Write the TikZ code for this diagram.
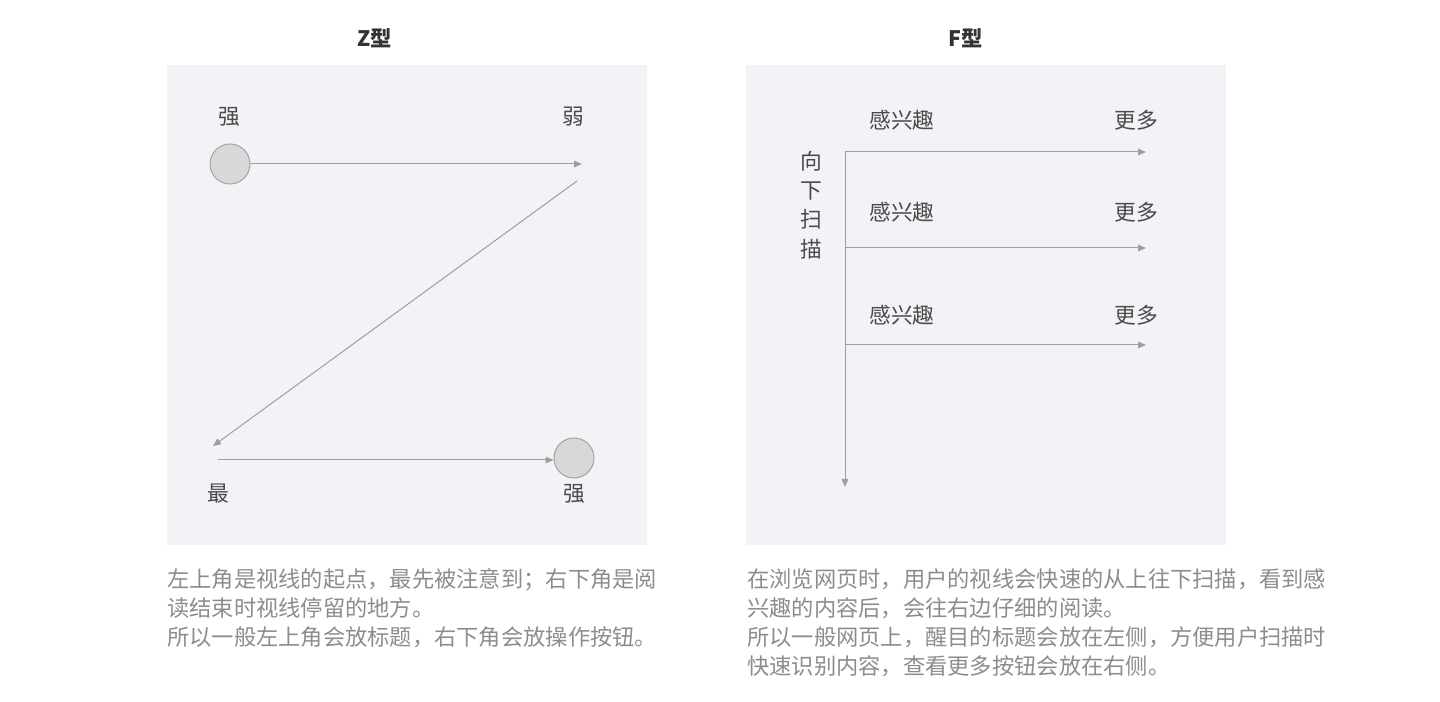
\documentclass[tikz,border=0pt]{standalone}
\usepackage{fontspec}
\setmainfont{Noto Sans CJK SC}
\usepackage{xcolor}
\usetikzlibrary{arrows.meta, positioning}
\definecolor{panelbg}{HTML}{F2F3F7}
\definecolor{linegray}{HTML}{9E9E9E}
\definecolor{dotfill}{HTML}{D8D8D8}
\definecolor{dotline}{HTML}{A3A3A3}
\definecolor{labeltext}{HTML}{4A4A4A}
\definecolor{notetext}{HTML}{8C8C8C}
\definecolor{titletext}{HTML}{333333}
\tikzstyle{panel}   = [fill=panelbg, draw=none]
\tikzstyle{dot}     = [circle, minimum size=30pt, inner sep=0pt, fill=dotfill, draw=dotline, line width=0.75pt]
\tikzstyle{label}   = [font=\fontsize{16.3}{18}\selectfont, text=labeltext, inner sep=0pt]
\tikzstyle{title}   = [font=\fontsize{16}{18}\selectfont\bfseries, text=titletext, inner sep=0pt]
\tikzstyle{note}    = [font=\fontsize{16.7}{21.8}\selectfont, text=notetext, inner sep=0pt, anchor=north west, align=left]
\tikzstyle{arrow}   = [line width=0.75pt, draw=linegray, -{Triangle[length=6pt, width=5pt, fill=linegray]}]

\begin{document}
\begin{tikzpicture}[x=0.75pt, y=-0.75pt]
    \useasboundingbox (0,0) rectangle (1440,702);
    % Z型
    \node (ztitle) [title] at (375,38) {Z型};
    \fill [panel] (167,65) rectangle (647,545);
    \node (zstart) [dot]   at (230,164) {};
    \node (zend)   [dot]   at (574,458) {};
    \node (zqiang) [label] at (229,117) {强};
    \node (zruo)   [label] at (573,117) {弱};
    \node (zzui)   [label] at (218,494) {最};
    \node (zqiang2)[label] at (574,494) {强};
    \coordinate (ztr)  at (582,164);
    \coordinate (zdiag) at (577,181);
    \coordinate (zbl)  at (213,446);
    \coordinate (zbot) at (218,460);
    \draw [arrow] (zstart.east) -- (ztr);
    \draw [arrow] (zdiag) -- (zbl);
    \draw [arrow] (zbot) -- (zbot -| zend.west);
    \node (znote) [note] at (167,568) {左上角是视线的起点，最先被注意到；右下角是阅\\读结束时视线停留的地方。\\所以一般左上角会放标题，右下角会放操作按钮。};

    % F型
    \node (ftitle) [title] at (966,38) {F型};
    \fill [panel] (746,65) rectangle (1226,545);
    \coordinate (ftop)  at (845,152);
    \coordinate (fdown) at (845,487);
    \draw [arrow] (ftop) -- (fdown);
    \foreach \y/\ly [count=\i] in {152/120, 248/212, 345/315} {
        \coordinate (frow\i) at (845,\y);
        \coordinate (fend\i) at (1146,\y);
        \draw [arrow] (frow\i) -- (fend\i);
        \node (fgan\i) [label] at (902,\ly) {感兴趣};
        \node (fmore\i)[label] at (1136,\ly) {更多};
    }
    \node (fscan) [label, align=center, font=\fontsize{16.3}{22}\selectfont] at (811,205) {向\\下\\扫\\描};
    \node (fnote) [note] at (747,568) {在浏览网页时，用户的视线会快速的从上往下扫描，看到感\\兴趣的内容后，会往右边仔细的阅读。\\所以一般网页上，醒目的标题会放在左侧，方便用户扫描时\\快速识别内容，查看更多按钮会放在右侧。};
\end{tikzpicture}
\end{document}
